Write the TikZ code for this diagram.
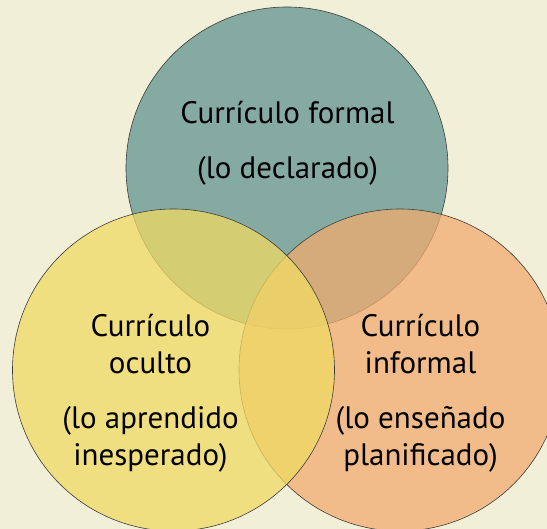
\documentclass[tikz,border=0pt]{standalone}
\usepackage{fontspec}
\setmainfont{PT Sans}
\definecolor{bgcol}{RGB}{241,239,216}
\definecolor{tealc}{RGB}{98,148,145}
\definecolor{yellowc}{RGB}{240,218,99}
\definecolor{orangec}{RGB}{242,172,112}
\definecolor{linec}{RGB}{60,60,60}
\begin{document}
\begin{tikzpicture}[x=1pt,y=-1pt,
  venn/.style={draw=linec, line width=0.6pt, fill opacity=0.75},
  lbl/.style={anchor=base, inner sep=0pt, font=\fontsize{31}{36}\selectfont, text=black}]
\fill[bgcol] (0,0) rectangle (547,529);
\useasboundingbox (0,0) rectangle (547,529);
\coordinate (cf) at (287,168);
\coordinate (ci) at (400,370);
\coordinate (co) at (173.5,370);
\filldraw[venn, fill=tealc] (cf) circle[radius=161];
\filldraw[venn, fill=orangec] (ci) circle[radius=161];
\filldraw[venn, fill=yellowc] (co) circle[radius=161];
\node[lbl] (f1) at (287.5,124) {Currículo formal};
\node[lbl] (f2) at (287.5,179) {(lo declarado)};
\node[lbl] (o1) at (150.5,337) {Currículo};
\node[lbl] (o2) at (150.5,373.5) {oculto};
\node[lbl] (o3) at (150.5,428.5) {(lo aprendido};
\node[lbl] (o4) at (150.5,465.5) {inesperado)};
\node[lbl] (i1) at (420.5,337) {Currículo};
\node[lbl] (i2) at (420.5,373.5) {informal};
\node[lbl] (i3) at (420.5,428.5) {(lo enseñado};
\node[lbl] (i4) at (420.5,465.5) {planificado)};
\end{tikzpicture}
\end{document}
